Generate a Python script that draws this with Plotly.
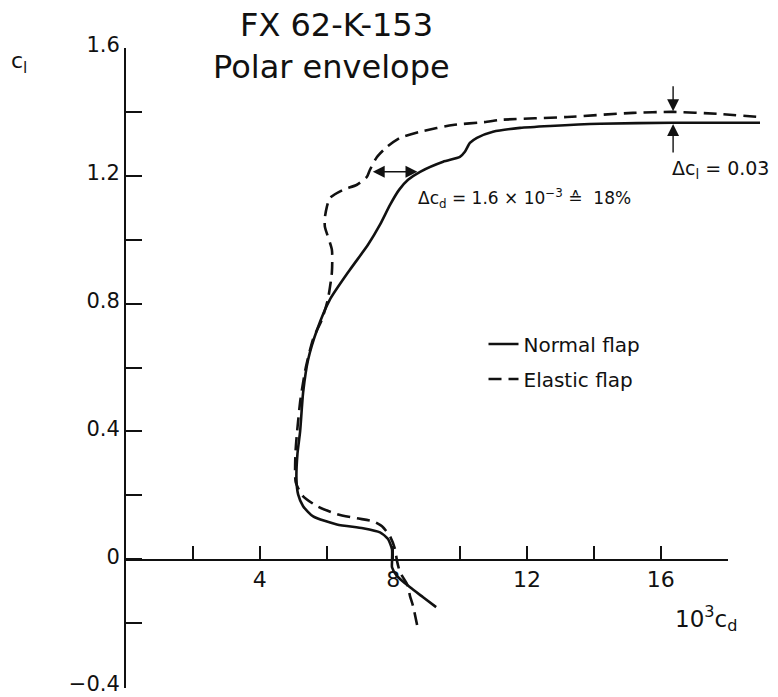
import plotly.graph_objects as go

# ---- data ----
normal_cd = [9.28, 8.89, 8.50, 8.11, 7.96, 7.96, 7.96, 7.84, 7.60, 7.09, 6.31, 5.60, 5.30, 5.15, 5.10,
             5.13, 5.21, 5.30, 5.45, 5.72, 6.10, 6.70, 7.24, 7.60, 7.90, 8.17, 8.44, 8.80,
             9.49, 9.99, 10.14, 10.29, 10.50, 10.98, 11.79, 12.69, 14.18, 16.37, 18.97]
normal_cl = [-0.150, -0.119, -0.088, -0.053, -0.025, -0.006, 0.031, 0.063, 0.084, 0.097, 0.109, 0.134,
             0.166, 0.203, 0.250, 0.330, 0.400, 0.522, 0.625, 0.719, 0.8125, 0.906, 0.984, 1.047,
             1.109, 1.156, 1.1875, 1.2125, 1.244, 1.259, 1.275, 1.303, 1.319, 1.338, 1.350,
             1.356, 1.363, 1.366, 1.366]

elastic_cd = [8.71, 8.59, 8.50, 8.41, 8.20, 8.11, 8.05, 7.90, 7.66, 7.39, 6.91, 6.31, 5.72, 5.30, 5.08,
              5.07, 5.12, 5.22, 5.38, 5.60, 5.86, 6.04, 6.16, 6.16, 5.95, 5.95, 6.01, 6.10, 6.49,
              6.91, 7.21, 7.30, 7.51, 7.81, 8.20, 8.80, 9.78, 10.80, 11.19, 13.20, 15.17, 16.37,
              17.68, 18.97]
elastic_cl = [-0.206, -0.147, -0.116, -0.078, -0.041, -0.006, 0.031, 0.072, 0.103, 0.119, 0.128, 0.141,
              0.166, 0.197, 0.240, 0.330, 0.400, 0.500, 0.600, 0.690, 0.750, 0.813, 0.897, 0.969,
              1.041, 1.069, 1.103, 1.131, 1.156, 1.172, 1.197, 1.219, 1.259, 1.291, 1.319, 1.338,
              1.359, 1.369, 1.375, 1.384, 1.397, 1.400, 1.394, 1.384]

x_tickvals = [2, 4, 6, 8, 10, 12, 14, 16, 18]
x_ticktext = ["", "4", "", "8", "", "12", "", "16", ""]
y_tickvals = [-0.4, -0.2, 0, 0.2, 0.4, 0.6, 0.8, 1.0, 1.2, 1.4, 1.6]
y_ticktext = ["\u22120.4", "", "0", "", "0.4", "", "0.8", "", "1.2", "", "1.6"]

delta_cd_text = "\u0394c<sub>d</sub> = 1.6 \u00d7 10<sup>\u22123</sup> \u2259  18%"
delta_cl_text = "\u0394c<sub>l</sub> = 0.03"

FONT = "DejaVu Sans"
INK = "#111111"

fig = go.Figure()
fig.add_trace(go.Scatter(x=normal_cd, y=normal_cl, mode="lines", name="Normal flap",
                         legendgroup="a", line=dict(color=INK, width=2.6, shape="spline", smoothing=0.6)))
fig.add_trace(go.Scatter(x=elastic_cd, y=elastic_cl, mode="lines", name="Elastic flap",
                         legendgroup="b", line=dict(color=INK, width=2.6, dash="13px,7px",
                                                    shape="spline", smoothing=0.6)))
# carrier for the visible cd axis (0..18)
fig.add_trace(go.Scatter(x=[0, 18], y=[0, 0], xaxis="x2", yaxis="y", mode="lines", opacity=0,
                         showlegend=False, hoverinfo="skip"))

annotations = [
    dict(text="FX 62-K-153", xref="paper", yref="paper", x=0.332, y=1.036, showarrow=False,
         font=dict(size=32), xanchor="center", yanchor="middle"),
    dict(text="Polar envelope", xref="paper", yref="paper", x=0.323, y=0.970, showarrow=False,
         font=dict(size=32), xanchor="center", yanchor="middle"),
    dict(text="c<sub>l</sub>", xref="paper", yref="paper", x=-0.185, y=0.978, showarrow=False,
         font=dict(size=22), xanchor="left", yanchor="middle"),
    dict(text="10<sup>3</sup>c<sub>d</sub>", xref="paper", yref="paper", x=0.914, y=0.108,
         showarrow=False, font=dict(size=23), xanchor="center", yanchor="middle"),
    dict(text=delta_cd_text, xref="paper", yref="paper", x=0.456, y=0.765, showarrow=False,
         font=dict(size=17), xanchor="left", yanchor="middle"),
    dict(text=delta_cl_text, xref="paper", yref="paper", x=0.856, y=0.81, showarrow=False,
         font=dict(size=19), xanchor="left", yanchor="middle"),
    # double-headed delta cd arrow
    dict(x=8.72, y=1.2125, ax=7.34, ay=1.2125, xref="x", yref="y", axref="x", ayref="y", text="",
         showarrow=True, arrowhead=2, startarrowhead=2, arrowside="end+start", arrowsize=1.7,
         startarrowsize=1.7, arrowwidth=1.4, arrowcolor=INK),
    # delta cl arrows
    dict(x=16.37, y=1.402, ax=16.37, ay=1.485, xref="x", yref="y", axref="x", ayref="y", text="",
         showarrow=True, arrowhead=2, arrowsize=1.7, arrowwidth=1.4, arrowcolor=INK),
    dict(x=16.37, y=1.362, ax=16.37, ay=1.268, xref="x", yref="y", axref="x", ayref="y", text="",
         showarrow=True, arrowhead=2, arrowsize=1.7, arrowwidth=1.4, arrowcolor=INK),
]

fig.update_layout(
    width=778, height=697,
    margin=dict(l=126, r=17, t=48, b=9, autoexpand=False),
    paper_bgcolor="white", plot_bgcolor="rgba(0,0,0,0)",
    font=dict(family=FONT, color=INK),
    showlegend=True,
    legend=dict(x=0.563, y=0.568, xanchor="left", yanchor="top", bgcolor="rgba(0,0,0,0)",
                font=dict(size=20), traceorder="grouped", tracegroupgap=6),
    xaxis=dict(range=[0, 19], visible=False, showgrid=False, zeroline=False, domain=[0, 1],
               automargin=False),
    xaxis2=dict(range=[0, 18], domain=[0, 18 / 19], anchor="free", position=0.2,
                side="bottom", showline=True, linecolor=INK, linewidth=2, showgrid=False,
                zeroline=False, ticks="inside", ticklen=13, tickwidth=2, tickcolor=INK,
                tickvals=x_tickvals, ticktext=x_ticktext, tickfont=dict(size=22), automargin=False),
    yaxis=dict(range=[-0.403, 1.6], showline=True, linecolor=INK, linewidth=2, showgrid=False,
               zeroline=False, ticks="inside", ticklen=16, tickwidth=2, tickcolor=INK,
               tickvals=y_tickvals, ticktext=y_ticktext, tickfont=dict(size=21), anchor="x",
               ticklabeloverflow="allow", automargin=False, ticklabelshift=-3),
    annotations=annotations,
)

fig.write_html("out.html")
